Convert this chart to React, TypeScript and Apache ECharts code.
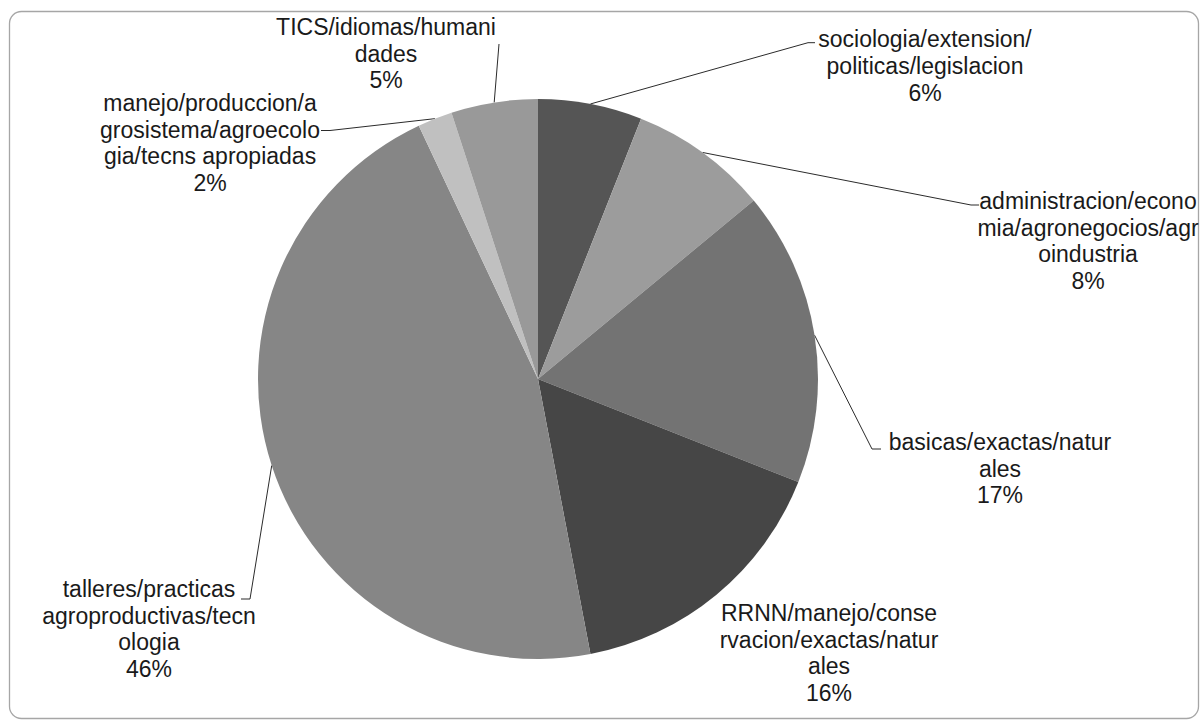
import React, { useEffect, useRef } from "react";
import * as echarts from "echarts";

// ---- data ----
const categories = [
  "sociologia/extension/politicas/legislacion",
  "administracion/economia/agronegocios/agroindustria",
  "basicas/exactas/naturales",
  "RRNN/manejo/conservacion/exactas/naturales",
  "talleres/practicas agroproductivas/tecnologia",
  "manejo/produccion/agrosistema/agroecologia/tecns apropiadas",
  "TICS/idiomas/humanidades",
];
const wrappedLabels = [
  "sociologia/extension/\npoliticas/legislacion",
  "administracion/econo\nmia/agronegocios/agr\noindustria",
  "basicas/exactas/natur\nales",
  "RRNN/manejo/conse\nrvacion/exactas/natur\nales",
  "talleres/practicas\nagroproductivas/tecn\nologia",
  "manejo/produccion/a\ngrosistema/agroecolo\ngia/tecns apropiadas",
  "TICS/idiomas/humani\ndades",
];
const shares = [6, 8, 17, 16, 46, 2, 5];
const sliceColors = ["#555555", "#9c9c9c", "#737373", "#464646", "#868686", "#c0c0c0", "#999999"];

// ---- layout ----
const CENTER = [538, 379];
const RADIUS = 280;
const FONT = 23;
const LINE_H = 26.7;
// label center x, first line center y
const labelPos = [
  [925, 39.5],
  [1088, 201],
  [1000, 442],
  [829, 613],
  [149, 589],
  [210, 103],
  [386, 27],
];
// leader line points after the slice edge point
const leaderBends: (number[][] | null)[] = [
  [[808, 42.7], [815, 42.7]],
  [[971, 205], [979, 205]],
  [[872, 449], [881, 449]],
  null,
  [[250, 599], [241, 599]],
  [[330, 130.5], [321, 130.5]],
  [[499, 44]],
];

function fallbackEdge(i: number): number[] {
  const total = shares.reduce((a, b) => a + b, 0);
  let before = 0;
  for (let k = 0; k < i; k++) before += shares[k];
  const mid = ((before + shares[i] / 2) / total) * Math.PI * 2;
  return [CENTER[0] + RADIUS * Math.sin(mid), CENTER[1] - RADIUS * Math.cos(mid)];
}

export default function App() {
  const ref = useRef<HTMLDivElement>(null);
  useEffect(() => {
    if (!ref.current) return;
    const chart = echarts.init(ref.current, undefined, { renderer: "svg" });
    chart.setOption({
      animation: false,
      backgroundColor: "#ffffff",
      graphic: [
        {
          type: "rect",
          silent: true,
          z: -10,
          shape: { x: 9.5, y: 11.5, width: 1189, height: 707, r: 12 },
          style: { fill: "none", stroke: "#a6a6a6", lineWidth: 1.3 },
        },
      ],
      series: [
        {
          type: "pie",
          center: [CENTER[0], CENTER[1]],
          radius: [0, RADIUS],
          startAngle: 90,
          clockwise: true,
          avoidLabelOverlap: false,
          percentPrecision: 0,
          itemStyle: { borderWidth: 0 },
          label: {
            show: true,
            position: "outside",
            fontFamily: "'Liberation Sans', Arial, sans-serif",
            fontSize: FONT,
            lineHeight: LINE_H,
            color: "#1a1a1a",
            align: "center",
            overflow: "none",
            formatter: (p: any) => `${wrappedLabels[p.dataIndex]}\n${p.percent}%`,
          },
          labelLine: {
            show: true,
            length: 15,
            length2: 10,
            smooth: false,
            lineStyle: { color: "#2b2b2b", width: 1 },
          },
          labelLayout: (params: any) => {
            const i = params.dataIndex;
            const [lx, ly] = labelPos[i];
            const bends = leaderBends[i];
            const start =
              params.labelLinePoints && params.labelLinePoints[0]
                ? params.labelLinePoints[0]
                : fallbackEdge(i);
            const res: any = {
              x: lx,
              y: ly - LINE_H / 2,
              align: "center",
              verticalAlign: "top",
            };
            if (bends) res.labelLinePoints = [start, ...bends];
            return res;
          },
          data: categories.map((name, i) => ({
            name,
            value: shares[i],
            itemStyle: { color: sliceColors[i] },
            labelLine: { show: leaderBends[i] !== null },
          })),
        },
      ],
    });
    return () => chart.dispose();
  }, []);
  return (
    <div
      ref={ref}
      style={{ position: "absolute", left: 0, top: 0, width: 1201, height: 720 }}
    />
  );
}
